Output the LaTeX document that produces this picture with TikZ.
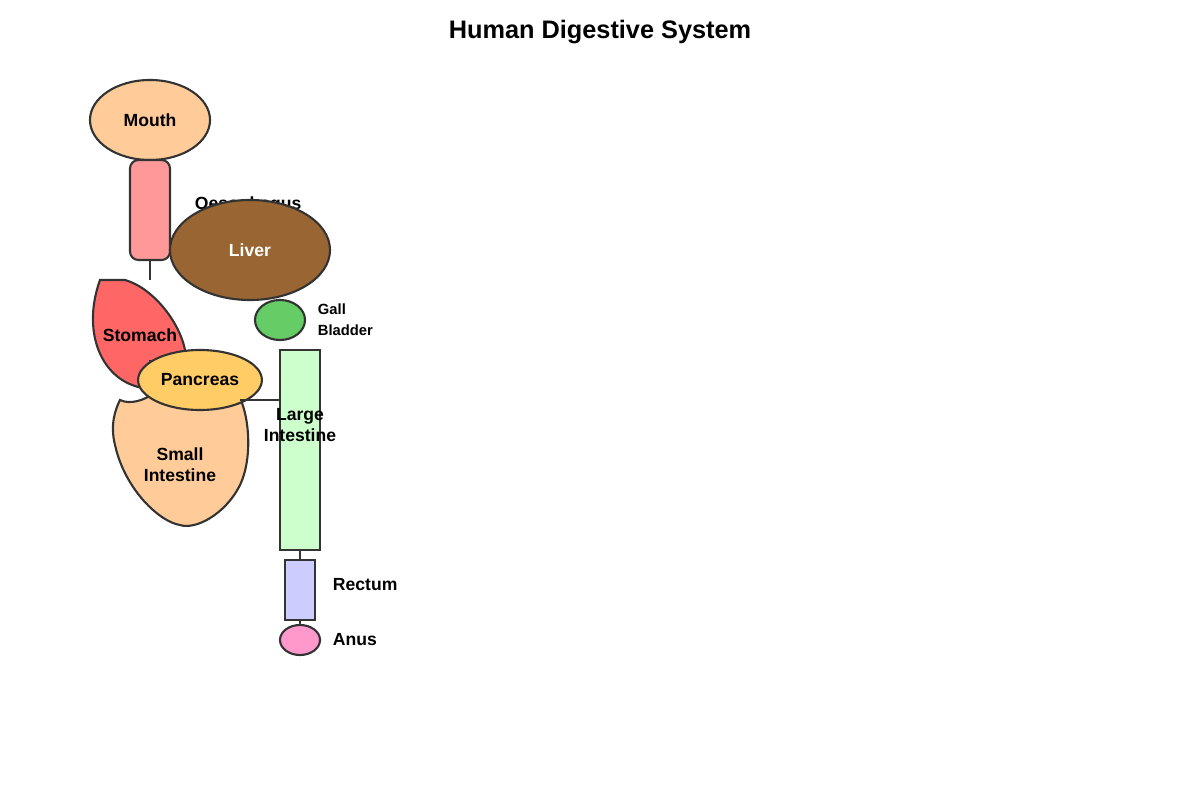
\documentclass[tikz,border=0pt]{standalone}
\usepackage{fontspec}
\setmainfont{Liberation Sans}
\usetikzlibrary{positioning,shapes.geometric}
\definecolor{dgMouth}{HTML}{FFCC99}
\definecolor{dgOeso}{HTML}{FF9999}
\definecolor{dgStomach}{HTML}{FF6666}
\definecolor{dgLiver}{HTML}{996633}
\definecolor{dgGall}{HTML}{66CC66}
\definecolor{dgPanc}{HTML}{FFCC66}
\definecolor{dgLarge}{HTML}{CCFFCC}
\definecolor{dgRectum}{HTML}{CCCCFF}
\definecolor{dgAnus}{HTML}{FF99CC}
\definecolor{dgLine}{HTML}{333333}
\tikzset{
  organ/.style={draw=dgLine, line width=1.5pt},
  lbl/.style={font=\bfseries\fontsize{12.5}{15}\selectfont, text=black},
  smalllbl/.style={font=\bfseries\fontsize{10.5}{15}\selectfont, text=black, align=left},
  link/.style={draw=dgLine, line width=1.1pt}
}
\begin{document}
\begin{tikzpicture}[x=0.025cm, y=-0.025cm]
  \useasboundingbox (0,0) rectangle (1200,800);
  \node[font=\bfseries\fontsize{18}{22}\selectfont] (title) at (600,32) {Human Digestive System};

  % Mouth and oesophagus
  \node[organ, ellipse, fill=dgMouth, minimum width=3cm, minimum height=2cm, lbl] (mouth) at (150,120) {Mouth};
  \draw[organ, fill=dgOeso, rounded corners=6pt] (130,160) rectangle (170,260);
  \coordinate (oesoBot) at (150,260);
  \coordinate (stomTop) at (150,280);
  \draw[link] (oesoBot) -- (stomTop);
  \node[lbl, anchor=west] (oesoLbl) at (190,205) {Oesophagus};

  % Stomach
  \draw[organ, fill=dgStomach] (100,280) -- (125,280)
    .. controls (160,290) and (192,340) .. (185,368)
    .. controls (180,385) and (150,392) .. (135,386)
    .. controls (100,375) and (82,330) .. (100,280) -- cycle;
  \node[lbl] (stomach) at (140,335) {Stomach};

  % Liver and gall bladder
  \node[organ, ellipse, fill=dgLiver, minimum width=4cm, minimum height=2.5cm, lbl, text=white] (liver) at (250,250) {Liver};
  \node[organ, ellipse, fill=dgGall, minimum width=1.25cm, minimum height=1cm] (gall) at (280,320) {};
  \node[smalllbl, anchor=west] (gallLbl) at (313,320) {Gall\\Bladder};

  % Large intestine
  \draw[organ, fill=dgLarge] (280,350) rectangle (320,550);
  \coordinate (largeTop) at (300,550);

  % Small intestine
  \draw[organ, fill=dgMouth] (120,400)
    .. controls (130,405) and (145,400) .. (152,394)
    -- (240,398)
    .. controls (250,420) and (252,460) .. (240,485)
    .. controls (225,515) and (195,530) .. (180,525)
    .. controls (160,522) and (125,490) .. (115,445)
    .. controls (110,425) and (115,410) .. (120,400) -- cycle;
  \node[lbl, align=center] (small) at (180,465) {Small\\Intestine};

  % Pancreas
  \coordinate (duoTop) at (150,360);
  \coordinate (duoBot) at (150,398);
  \draw[link] (duoTop) -- (duoBot);
  \node[organ, ellipse, fill=dgPanc, minimum width=2.5cm, minimum height=1.5cm, lbl] (pancreas) at (200,380) {Pancreas};
  \coordinate (pancR) at (240,400);
  \coordinate (largeL) at (280,400);
  \draw[link] (pancR) -- (largeL);
  \node[lbl, align=center] (large) at (300,425) {Large\\Intestine};

  % Rectum and anus
  \draw[organ, fill=dgRectum] (285,560) rectangle (315,620);
  \coordinate (rectTop) at (300,560);
  \coordinate (rectBot) at (300,620);
  \draw[link] (largeTop) -- (rectTop);
  \node[lbl, anchor=west] (rectum) at (328,585) {Rectum};
  \node[organ, ellipse, fill=dgAnus, minimum width=1cm, minimum height=0.75cm] (anus) at (300,640) {};
  \draw[link] (rectBot) -- (anus.north);
  \node[lbl, anchor=west] (anusLbl) at (328,640) {Anus};
\end{tikzpicture}
\end{document}
